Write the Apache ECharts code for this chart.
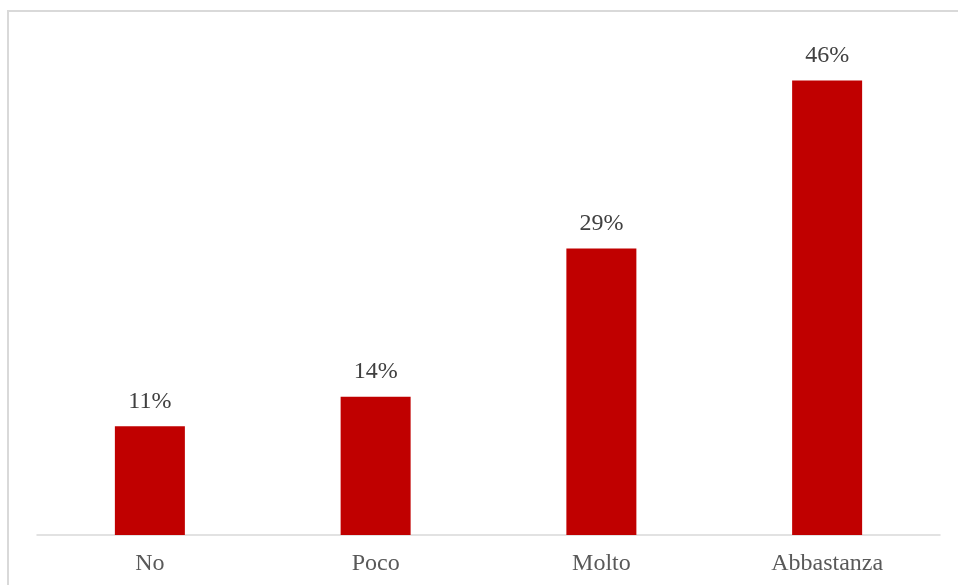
<!DOCTYPE html>
<html>
<head>
<meta charset="utf-8">
<script src="https://cdn.jsdelivr.net/npm/echarts@6/dist/echarts.min.js"></script>
<style>
html,body{margin:0;padding:0;background:#fff;}
#chart{width:958px;height:585px;}
</style>
</head>
<body>
<div id="chart"></div>
<script>
const categories = ["No", "Poco", "Molto", "Abbastanza"];
const values = [11, 14, 29, 46];

const chart = echarts.init(document.getElementById('chart'), null, {renderer: 'canvas'});
chart.setOption({
  animation: false,
  backgroundColor: '#ffffff',
  graphic: [{
    type: 'rect',
    shape: {x: 8, y: 11, width: 1000, height: 650},
    style: {fill: 'none', stroke: '#d9d9d9', lineWidth: 2},
    silent: true
  }],
  grid: {left: 37, right: 18, top: 41, bottom: 50, containLabel: false},
  xAxis: {
    type: 'category',
    data: categories,
    axisLine: {lineStyle: {color: '#d9d9d9', width: 1.5}},
    axisTick: {show: false},
    axisLabel: {color: '#595959', fontFamily: 'Liberation Serif', fontSize: 24, margin: 17}
  },
  yAxis: {
    type: 'value',
    min: 0, max: 50,
    show: false,
    splitLine: {show: false}
  },
  series: [{
    type: 'bar',
    data: values,
    barWidth: 70,
    itemStyle: {color: '#c00000'},
    label: {
      show: true,
      position: 'top',
      distance: 13,
      formatter: '{c}%',
      color: '#404040',
      fontFamily: 'Liberation Serif',
      fontSize: 24
    }
  }]
});
</script>
</body>
</html>
